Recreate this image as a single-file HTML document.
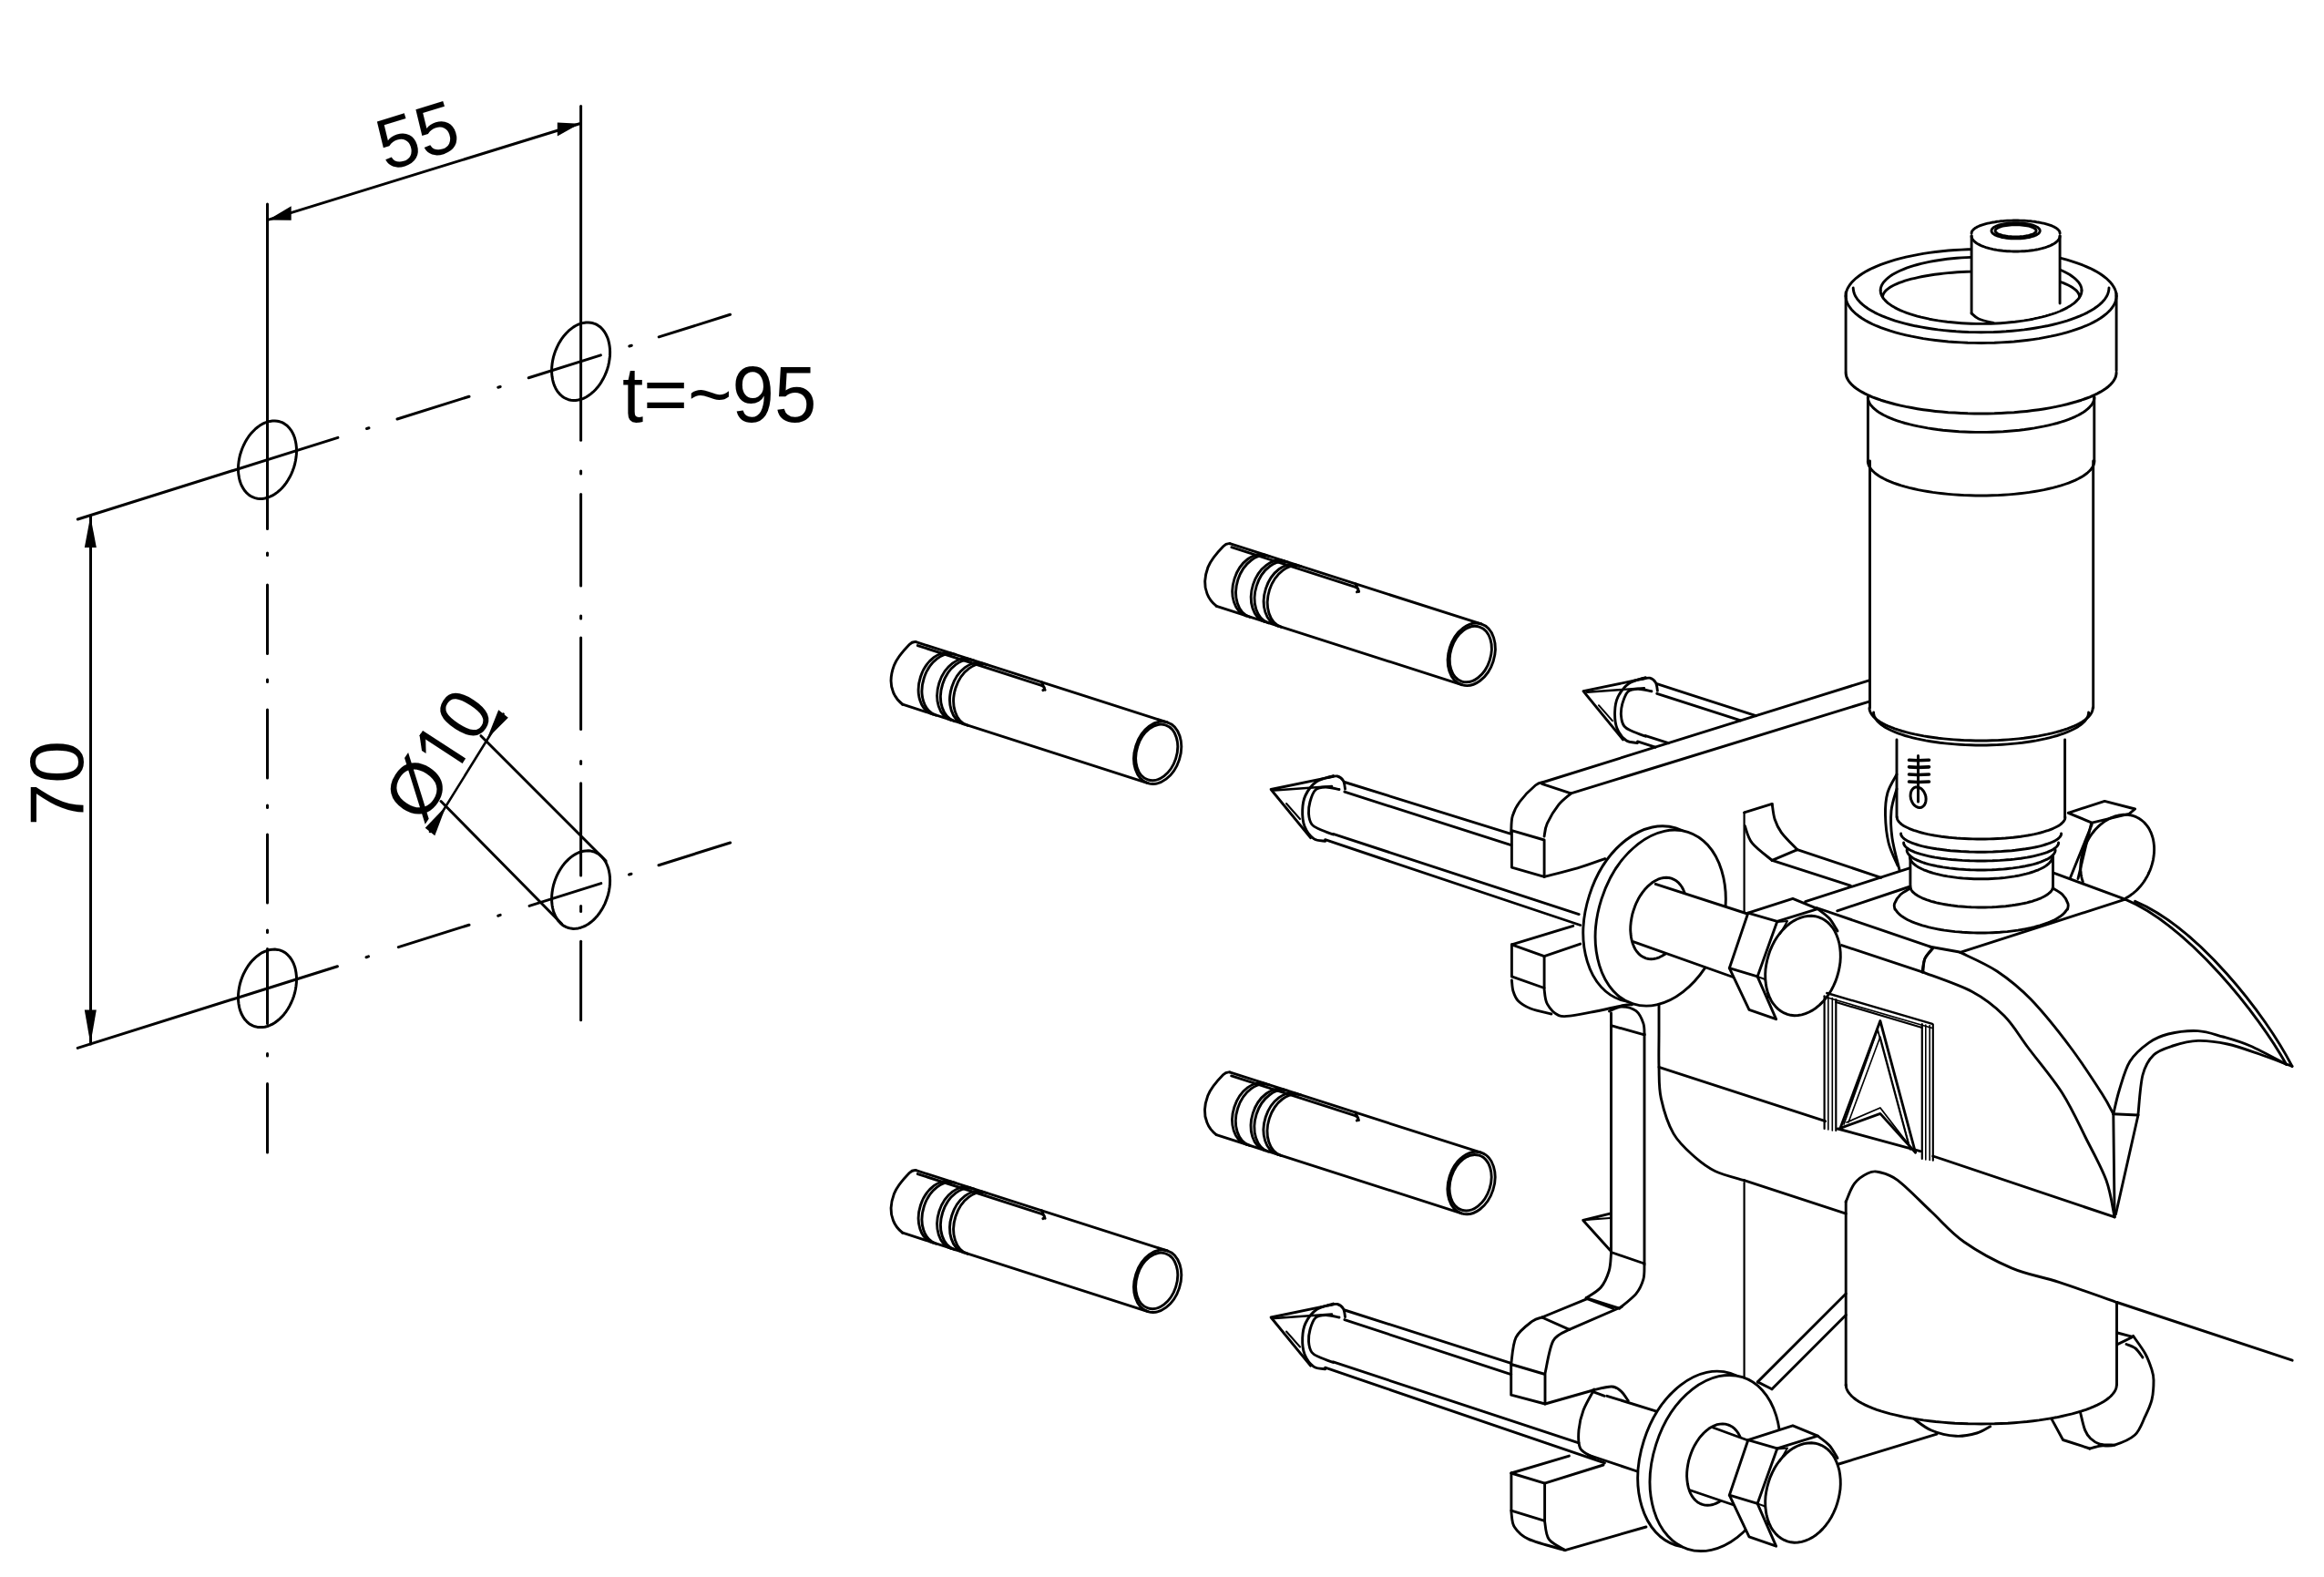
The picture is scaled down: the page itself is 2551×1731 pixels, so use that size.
<!DOCTYPE html>
<html><head><meta charset="utf-8"><style>
html,body{margin:0;padding:0;background:#fff;width:2551px;height:1731px;overflow:hidden}
svg{display:block}
</style></head><body>
<svg width="2551" height="1731" viewBox="0 0 2551 1731" fill="none" stroke="#000" stroke-linecap="round" stroke-linejoin="round">
<rect width="2551" height="1731" fill="#fff" stroke="none"/>
<g fill="#000" stroke="none">
</g>
<line x1="293.5" y1="224" x2="293.5" y2="580.5" stroke-width="3.0"/>
<line x1="293.5" y1="607" x2="293.5" y2="609.5" stroke-width="3.0"/>
<line x1="293.5" y1="642" x2="293.5" y2="717.5" stroke-width="3.0"/>
<line x1="293.5" y1="746" x2="293.5" y2="748.5" stroke-width="3.0"/>
<line x1="293.5" y1="779" x2="293.5" y2="854" stroke-width="3.0"/>
<line x1="293.5" y1="884" x2="293.5" y2="886.5" stroke-width="3.0"/>
<line x1="293.5" y1="916" x2="293.5" y2="991" stroke-width="3.0"/>
<line x1="293.5" y1="1021" x2="293.5" y2="1023.5" stroke-width="3.0"/>
<line x1="293.5" y1="1041.5" x2="293.5" y2="1123.5" stroke-width="3.0"/>
<line x1="293.5" y1="1156.5" x2="293.5" y2="1159" stroke-width="3.0"/>
<line x1="293.5" y1="1189.5" x2="293.5" y2="1265" stroke-width="3.0"/>
<line x1="637.6" y1="116.5" x2="637.6" y2="483.3" stroke-width="3.0"/>
<line x1="637.6" y1="517" x2="637.6" y2="520" stroke-width="3.0"/>
<line x1="637.6" y1="542.6" x2="637.6" y2="643" stroke-width="3.0"/>
<line x1="637.6" y1="676" x2="637.6" y2="679" stroke-width="3.0"/>
<line x1="637.6" y1="700" x2="637.6" y2="800.4" stroke-width="3.0"/>
<line x1="637.6" y1="835.5" x2="637.6" y2="838.5" stroke-width="3.0"/>
<line x1="637.6" y1="859.7" x2="637.6" y2="961.1" stroke-width="3.0"/>
<line x1="637.6" y1="994.5" x2="637.6" y2="1000.5" stroke-width="3.0"/>
<line x1="637.6" y1="1033.3" x2="637.6" y2="1119.7" stroke-width="3.0"/>
<line x1="85.3" y1="570" x2="370.9" y2="480.4" stroke-width="3.0"/>
<line x1="402.5" y1="470.5" x2="405" y2="469.7" stroke-width="3.0"/>
<line x1="436" y1="460" x2="515" y2="435.2" stroke-width="3.0"/>
<line x1="546.7" y1="425.2" x2="549.2" y2="424.5" stroke-width="3.0"/>
<line x1="580.2" y1="414.7" x2="659.4" y2="389.9" stroke-width="3.0"/>
<line x1="690.8" y1="380" x2="693.3" y2="379.2" stroke-width="3.0"/>
<line x1="723.2" y1="369.9" x2="801.5" y2="345.3" stroke-width="3.0"/>
<line x1="85.2" y1="1150.4" x2="370.4" y2="1060.7" stroke-width="3.0"/>
<line x1="402" y1="1050.7" x2="404.5" y2="1049.9" stroke-width="3.0"/>
<line x1="437.3" y1="1039.6" x2="515" y2="1015.2" stroke-width="3.0"/>
<line x1="546.7" y1="1005.2" x2="549.2" y2="1004.4" stroke-width="3.0"/>
<line x1="581" y1="994.4" x2="659.8" y2="969.6" stroke-width="3.0"/>
<line x1="690.5" y1="960" x2="693" y2="959.2" stroke-width="3.0"/>
<line x1="723" y1="949.7" x2="801.6" y2="925" stroke-width="3.0"/>
<polyline points="325.5,494.7 325.4,491.1 325,487.6 324.4,484.3 323.6,481.1 322.5,478 321.2,475.2 319.7,472.6 318,470.3 316.1,468.2 314.1,466.4 311.9,464.9 309.5,463.7 307,462.8 304.4,462.2 301.8,461.9 299.1,462 296.3,462.4 293.5,463.1 290.7,464.1 287.9,465.4 285.2,467.1 282.6,469 280,471.2 277.5,473.7 275.1,476.3 272.9,479.2 270.9,482.3 269,485.6 267.3,489 265.8,492.5 264.5,496.2 263.4,499.8 262.6,503.6 262,507.3 261.6,511 261.5,514.7 261.6,518.3 262,521.8 262.6,525.1 263.4,528.3 264.5,531.3 265.8,534.1 267.3,536.7 269,539.1 270.9,541.2 272.9,543 275.1,544.5 277.5,545.7 280,546.6 282.6,547.2 285.2,547.5 287.9,547.4 290.7,547 293.5,546.3 296.3,545.2 299.1,543.9 301.8,542.3 304.4,540.4 307,538.2 309.5,535.7 311.9,533 314.1,530.1 316.1,527 318,523.8 319.7,520.3 321.2,516.8 322.5,513.2 323.6,509.5 324.4,505.8 325,502.1 325.4,498.3 325.5,494.7" stroke-width="3.0"/>
<polyline points="669.6,386.7 669.5,383.1 669.1,379.7 668.5,376.3 667.7,373.1 666.6,370.1 665.3,367.3 663.8,364.7 662.1,362.3 660.2,360.2 658.2,358.4 656,356.9 653.6,355.7 651.1,354.8 648.5,354.2 645.9,354 643.2,354 640.4,354.4 637.6,355.1 634.8,356.2 632,357.5 629.3,359.1 626.7,361.1 624.1,363.2 621.6,365.7 619.2,368.4 617,371.3 615,374.4 613.1,377.6 611.4,381.1 609.9,384.6 608.6,388.2 607.5,391.9 606.7,395.6 606.1,399.3 605.7,403.1 605.6,406.7 605.7,410.3 606.1,413.8 606.7,417.1 607.5,420.3 608.6,423.4 609.9,426.2 611.4,428.8 613.1,431.1 615,433.2 617,435 619.2,436.5 621.6,437.7 624.1,438.7 626.7,439.2 629.3,439.5 632,439.4 634.8,439 637.6,438.3 640.4,437.3 643.2,436 645.9,434.3 648.5,432.4 651.1,430.2 653.6,427.7 656,425.1 658.2,422.2 660.2,419.1 662.1,415.8 663.8,412.4 665.3,408.9 666.6,405.2 667.7,401.6 668.5,397.8 669.1,394.1 669.5,390.4 669.6,386.7" stroke-width="3.0"/>
<polyline points="325.5,1074.9 325.4,1071.3 325,1067.8 324.4,1064.4 323.6,1061.2 322.5,1058.2 321.2,1055.4 319.7,1052.8 318,1050.5 316.1,1048.4 314.1,1046.6 311.9,1045.1 309.5,1043.8 307,1042.9 304.4,1042.4 301.8,1042.1 299.1,1042.2 296.3,1042.5 293.5,1043.3 290.7,1044.3 287.9,1045.6 285.2,1047.3 282.6,1049.2 280,1051.4 277.5,1053.8 275.1,1056.5 272.9,1059.4 270.9,1062.5 269,1065.8 267.3,1069.2 265.8,1072.7 264.5,1076.3 263.4,1080 262.6,1083.8 262,1087.5 261.6,1091.2 261.5,1094.9 261.6,1098.5 262,1101.9 262.6,1105.3 263.4,1108.5 264.5,1111.5 265.8,1114.3 267.3,1116.9 269,1119.3 270.9,1121.3 272.9,1123.2 275.1,1124.7 277.5,1125.9 280,1126.8 282.6,1127.4 285.2,1127.6 287.9,1127.6 290.7,1127.2 293.5,1126.5 296.3,1125.4 299.1,1124.1 301.8,1122.5 304.4,1120.5 307,1118.3 309.5,1115.9 311.9,1113.2 314.1,1110.3 316.1,1107.2 318,1103.9 319.7,1100.5 321.2,1097 322.5,1093.4 323.6,1089.7 324.4,1086 325,1082.2 325.4,1078.5 325.5,1074.9" stroke-width="3.0"/>
<polyline points="669.6,966.6 669.5,963 669.1,959.5 668.5,956.2 667.7,953 666.6,950 665.3,947.1 663.8,944.5 662.1,942.2 660.2,940.1 658.2,938.3 656,936.8 653.6,935.6 651.1,934.7 648.5,934.1 645.9,933.8 643.2,933.9 640.4,934.3 637.6,935 634.8,936 632,937.4 629.3,939 626.7,940.9 624.1,943.1 621.6,945.6 619.2,948.3 617,951.2 615,954.3 613.1,957.5 611.4,960.9 609.9,964.5 608.6,968.1 607.5,971.8 606.7,975.5 606.1,979.2 605.7,982.9 605.6,986.6 605.7,990.2 606.1,993.7 606.7,997 607.5,1000.2 608.6,1003.2 609.9,1006.1 611.4,1008.7 613.1,1011 615,1013.1 617,1014.9 619.2,1016.4 621.6,1017.6 624.1,1018.5 626.7,1019.1 629.3,1019.4 632,1019.3 634.8,1018.9 637.6,1018.2 640.4,1017.2 643.2,1015.8 645.9,1014.2 648.5,1012.3 651.1,1010.1 653.6,1007.6 656,1004.9 658.2,1002 660.2,998.9 662.1,995.7 663.8,992.3 665.3,988.7 666.6,985.1 667.7,981.4 668.5,977.7 669.1,974 669.5,970.3 669.6,966.6" stroke-width="3.0"/>
<line x1="99.5" y1="567" x2="99.5" y2="1146" stroke-width="3.0"/>
<polygon points="99.3,566.5 105.8,601 92.8,601" fill="#000" stroke="none"/>
<polygon points="99.3,1146 105.8,1108.5 92.8,1108.5" fill="#000" stroke="none"/>
<line x1="294.1" y1="241.4" x2="636.3" y2="135.8" stroke-width="3.0"/>
<polygon points="294.1,241.4 319.7,241.7 319.7,226.3" fill="#000" stroke="none"/>
<polygon points="636.3,135.8 611.8,149.5 611.8,134.5" fill="#000" stroke="none"/>
<line x1="527.9" y1="807.7" x2="665.1" y2="945" stroke-width="3.0"/>
<line x1="484" y1="879.5" x2="616.6" y2="1014" stroke-width="3.0"/>
<line x1="552.5" y1="783.5" x2="472" y2="913" stroke-width="2.6"/>
<polygon points="534.6,811 557.8,787.7 547.2,779.3" fill="#000" stroke="none"/>
<polygon points="489.5,885.1 477.3,917.2 466.7,908.8" fill="#000" stroke="none"/>
<text fill="#000" stroke="none" font-family="Liberation Sans" font-size="84" transform="translate(91,906.5) rotate(-90)">70</text>
<text fill="#000" stroke="none" font-family="Liberation Sans" font-size="80" text-anchor="middle" transform="translate(466.3,174.8) rotate(-17.15)">55</text>
<g transform="translate(463.4,906) rotate(-57)"><text fill="#000" stroke="none" font-family="Liberation Sans" font-size="79" x="0" y="0">Ø</text><text fill="#000" stroke="none" font-family="Liberation Sans" font-size="79" x="105.4" y="0">0</text><polygon points="81.2,-56.1 87.6,-56.1 87.6,0.0 81.2,0.0" fill="#000" stroke="none"/><polygon points="81.2,-56.1 84.4,-56.1 81.2,-48.2 68.6,-39.5 68.6,-45.0" fill="#000" stroke="none"/></g>
<text fill="#000" stroke="none" font-family="Liberation Sans" font-size="88" transform="translate(683,462.5) scale(0.948,1)">t=~95</text>
<defs><g id="pin" stroke-width="2.9"><path d="M -9,-35 L 280.7,-35 M -2,34.8 L 280.7,35"/><ellipse cx="280.7" cy="0" rx="25" ry="35"/><ellipse cx="279.7" cy="0" rx="22" ry="31.5"/><path d="M -9,-35 C -12,-34.5 -13.5,-33 -15,-30 C -19,-22 -23.5,-12 -24,-3 C -24.5,8 -22,18 -16,25 C -12,30 -7,33 -2,34.8"/><path d="M 32.5,-35 A 25 35 0 0 0 32.5,35"/><path d="M 36.5,-35 A 25 35 0 0 0 36.5,35"/><path d="M 54,-35 A 25 35 0 0 0 54,35"/><path d="M 58,-35 A 25 35 0 0 0 58,35"/><path d="M 68.6,-35 A 25 35 0 0 0 68.6,35"/><path d="M 72.9,-35 A 25 35 0 0 0 72.9,35"/><path d="M -6,-31.8 L 136,-31.5 C 141,-31.5 142,-29 140,-27 M 136,-35 L 142,-28"/></g></defs>
<use href="#pin" transform="translate(1003.3,740.7) rotate(17.74)"/>
<use href="#pin" transform="translate(1347.9,632.8) rotate(17.74)"/>
<use href="#pin" transform="translate(1003.3,1320.7) rotate(17.74)"/>
<use href="#pin" transform="translate(1347.7,1213) rotate(17.74)"/>
<g stroke-width="2.9"><line x1="2026.1" y1="321" x2="2026.1" y2="408"/>
<line x1="2323.1" y1="322" x2="2323.1" y2="407"/>
<polyline points="2026.1,325 2026.3,322.5 2026.8,320 2027.7,317.4 2029,315 2030.6,312.5 2032.5,310.1 2034.8,307.7 2037.4,305.3 2040.4,303 2043.6,300.7 2047.2,298.5 2051.1,296.4 2055.3,294.3 2059.8,292.3 2064.6,290.4 2069.6,288.6 2074.9,286.8 2080.4,285.2 2086.1,283.6 2092.1,282.2 2098.3,280.8 2104.6,279.6 2111.1,278.4 2117.8,277.4 2124.6,276.5 2131.5,275.7 2138.5,275 2145.6,274.5 2152.8,274.1 2160,273.7 2167.3,273.6 2174.6,273.5 2181.9,273.6 2189.2,273.7 2196.4,274.1 2203.6,274.5 2210.7,275 2217.7,275.7 2224.6,276.5 2231.4,277.4 2238.1,278.4 2244.6,279.6 2250.9,280.8 2257.1,282.2 2263.1,283.6 2268.8,285.2 2274.3,286.8 2279.6,288.6 2284.6,290.4 2289.4,292.3 2293.9,294.3 2298.1,296.4 2302,298.5 2305.6,300.7 2308.8,303 2311.8,305.3 2314.4,307.7 2316.7,310.1 2318.6,312.5 2320.2,315 2321.5,317.4 2322.4,320 2322.9,322.5 2323.1,325"/>
<polyline points="2323.1,325 2322.9,327.5 2322.4,330 2321.5,332.6 2320.2,335 2318.6,337.5 2316.7,339.9 2314.4,342.3 2311.8,344.7 2308.8,347 2305.6,349.3 2302,351.5 2298.1,353.6 2293.9,355.7 2289.4,357.7 2284.6,359.6 2279.6,361.4 2274.3,363.2 2268.8,364.8 2263.1,366.4 2257.1,367.8 2250.9,369.2 2244.6,370.4 2238.1,371.6 2231.4,372.6 2224.6,373.5 2217.7,374.3 2210.7,375 2203.6,375.5 2196.4,375.9 2189.2,376.3 2181.9,376.4 2174.6,376.5 2167.3,376.4 2160,376.3 2152.8,375.9 2145.6,375.5 2138.5,375 2131.5,374.3 2124.6,373.5 2117.8,372.6 2111.1,371.6 2104.6,370.4 2098.3,369.2 2092.1,367.8 2086.1,366.4 2080.4,364.8 2074.9,363.2 2069.6,361.4 2064.6,359.6 2059.8,357.7 2055.3,355.7 2051.1,353.6 2047.2,351.5 2043.6,349.3 2040.4,347 2037.4,344.7 2034.8,342.3 2032.5,339.9 2030.6,337.5 2029,335 2027.7,332.6 2026.8,330 2026.3,327.5 2026.1,325"/>
<polyline points="2315,316 2314.8,318.4 2314.3,320.8 2313.5,323.1 2312.3,325.5 2310.8,327.8 2309,330.1 2306.8,332.4 2304.3,334.6 2301.5,336.8 2298.4,339 2295,341 2291.3,343.1 2287.4,345 2283.1,346.9 2278.6,348.7 2273.9,350.4 2268.9,352.1 2263.7,353.6 2258.2,355.1 2252.6,356.5 2246.8,357.8 2240.8,358.9 2234.6,360 2228.3,361 2221.9,361.9 2215.4,362.6 2208.7,363.2 2202,363.8 2195.2,364.2 2188.4,364.5 2181.5,364.6 2174.6,364.7 2167.7,364.6 2160.8,364.5 2154,364.2 2147.2,363.8 2140.5,363.2 2133.8,362.6 2127.3,361.9 2120.9,361 2114.6,360 2108.4,358.9 2102.4,357.8 2096.6,356.5 2091,355.1 2085.5,353.6 2080.3,352.1 2075.3,350.4 2070.6,348.7 2066.1,346.9 2061.8,345 2057.9,343.1 2054.2,341 2050.8,339 2047.7,336.8 2044.9,334.6 2042.4,332.4 2040.2,330.1 2038.4,327.8 2036.9,325.5 2035.7,323.1 2034.9,320.8 2034.4,318.4 2034.2,316"/>
<polyline points="2285,318.8 2284.9,320.6 2284.5,322.4 2283.8,324.2 2282.9,325.9 2281.7,327.7 2280.2,329.4 2278.5,331.1 2276.6,332.8 2274.4,334.4 2272,336.1 2269.3,337.6 2266.4,339.1 2263.3,340.6 2259.9,342 2256.4,343.4 2252.7,344.7 2248.7,345.9 2244.6,347.1 2240.4,348.2 2235.9,349.2 2231.4,350.2 2226.6,351.1 2221.8,351.9 2216.8,352.6 2211.8,353.3 2206.6,353.8 2201.4,354.3 2196.1,354.7 2190.8,355 2185.4,355.2 2180,355.4 2174.6,355.4 2169.2,355.4 2163.8,355.2 2158.4,355 2153.1,354.7 2147.8,354.3 2142.6,353.8 2137.4,353.3 2132.4,352.6 2127.4,351.9 2122.6,351.1 2117.8,350.2 2113.3,349.2 2108.8,348.2 2104.6,347.1 2100.5,345.9 2096.5,344.7 2092.8,343.4 2089.3,342 2085.9,340.6 2082.8,339.1 2079.9,337.6 2077.2,336.1 2074.8,334.4 2072.6,332.8 2070.7,331.1 2069,329.4 2067.5,327.7 2066.3,325.9 2065.4,324.2 2064.7,322.4 2064.3,320.6 2064.2,318.8"/>
<polyline points="2064.2,318.8 2064.3,317 2064.7,315.2 2065.4,313.4 2066.3,311.7 2067.5,309.9 2069,308.2 2070.7,306.5 2072.6,304.8 2074.8,303.2 2077.2,301.5 2079.9,300 2082.8,298.5 2085.9,297 2089.3,295.6 2092.8,294.2 2096.5,292.9 2100.5,291.7 2104.6,290.5 2108.8,289.4 2113.3,288.4 2117.8,287.4 2122.6,286.5 2127.4,285.7 2132.4,285 2137.4,284.3 2142.6,283.8 2147.8,283.3 2153.1,282.9 2158.4,282.6 2163.8,282.4 2169.2,282.2 2174.6,282.2 2180,282.2 2185.4,282.4 2190.8,282.6 2196.1,282.9 2201.4,283.3 2206.6,283.8 2211.8,284.3 2216.8,285 2221.8,285.7 2226.6,286.5 2231.4,287.4 2235.9,288.4 2240.4,289.4 2244.6,290.5 2248.7,291.7 2252.7,292.9 2256.4,294.2 2259.9,295.6 2263.3,297 2266.4,298.5 2269.3,300 2272,301.5 2274.4,303.2 2276.6,304.8 2278.5,306.5 2280.2,308.2 2281.7,309.9 2282.9,311.7 2283.8,313.4 2284.5,315.2 2284.9,317 2285,318.8"/>
<polyline points="2066.6,326 2066.7,324.6 2067.1,323.3 2067.8,321.9 2068.7,320.5 2069.8,319.2 2071.3,317.9 2072.9,316.6 2074.8,315.3 2077,314 2079.4,312.8 2082,311.6 2084.8,310.4 2087.9,309.3 2091.1,308.2 2094.6,307.2 2098.2,306.2 2102.1,305.3 2106.1,304.4 2110.3,303.5 2114.6,302.7 2119.1,302 2123.7,301.3 2128.4,300.7 2133.3,300.1 2138.2,299.6 2143.2,299.2 2148.4,298.8 2153.5,298.5 2158.8,298.3 2164,298.1 2169.3,298 2174.6,298 2179.9,298 2185.2,298.1 2190.4,298.3 2195.7,298.5 2200.8,298.8 2206,299.2 2211,299.6 2215.9,300.1 2220.8,300.7 2225.5,301.3 2230.1,302 2234.6,302.7 2238.9,303.5 2243.1,304.4 2247.1,305.3 2251,306.2 2254.6,307.2 2258.1,308.2 2261.3,309.3 2264.4,310.4 2267.2,311.6 2269.8,312.8 2272.2,314 2274.4,315.3 2276.3,316.6 2277.9,317.9 2279.4,319.2 2280.5,320.5 2281.4,321.9 2282.1,323.3 2282.5,324.6 2282.6,326"/>
<polyline points="2323.1,409 2322.9,411.2 2322.4,413.4 2321.5,415.6 2320.2,417.8 2318.6,419.9 2316.7,422.1 2314.4,424.2 2311.8,426.2 2308.8,428.2 2305.6,430.2 2302,432.1 2298.1,434 2293.9,435.8 2289.4,437.5 2284.6,439.2 2279.6,440.8 2274.3,442.3 2268.8,443.8 2263.1,445.1 2257.1,446.4 2250.9,447.6 2244.6,448.7 2238.1,449.7 2231.4,450.6 2224.6,451.4 2217.7,452.1 2210.7,452.7 2203.6,453.1 2196.4,453.5 2189.2,453.8 2181.9,453.9 2174.6,454 2167.3,453.9 2160,453.8 2152.8,453.5 2145.6,453.1 2138.5,452.7 2131.5,452.1 2124.6,451.4 2117.8,450.6 2111.1,449.7 2104.6,448.7 2098.3,447.6 2092.1,446.4 2086.1,445.1 2080.4,443.8 2074.9,442.3 2069.6,440.8 2064.6,439.2 2059.8,437.5 2055.3,435.8 2051.1,434 2047.2,432.1 2043.6,430.2 2040.4,428.2 2037.4,426.2 2034.8,424.2 2032.5,422.1 2030.6,419.9 2029,417.8 2027.7,415.6 2026.8,413.4 2026.3,411.2 2026.1,409" stroke-width="3"/>
<polygon points="2164.1,259 2164.1,344 2172,350 2186,352.5 2188.1,353 2195.1,352.7 2202.1,352.2 2209,351.6 2215.7,350.8 2222.3,349.9 2228.6,348.9 2234.8,347.7 2240.6,346.4 2246.2,345.1 2251.5,343.5 2256.5,341.9 2261.1,340.2 2261.1,259 2261.1,256 2261,255.3 2260.9,254.6 2260.6,253.9 2260.2,253.3 2259.6,252.6 2259,251.9 2258.3,251.3 2257.4,250.6 2256.4,250 2255.4,249.4 2254.2,248.8 2252.9,248.2 2251.6,247.7 2250.1,247.1 2248.5,246.6 2246.9,246.1 2245.2,245.6 2243.4,245.2 2241.5,244.8 2239.5,244.4 2237.5,244 2235.5,243.7 2233.3,243.3 2231.2,243.1 2228.9,242.8 2226.7,242.6 2224.4,242.4 2222.1,242.3 2219.7,242.2 2217.4,242.1 2215,242 2212.6,242 2210.2,242 2207.8,242.1 2205.5,242.2 2203.1,242.3 2200.8,242.4 2198.5,242.6 2196.3,242.8 2194,243.1 2191.9,243.3 2189.7,243.7 2187.7,244 2185.7,244.4 2183.7,244.8 2181.8,245.2 2180,245.6 2178.3,246.1 2176.7,246.6 2175.1,247.1 2173.6,247.7 2172.3,248.2 2171,248.8 2169.8,249.4 2168.8,250 2167.8,250.6 2166.9,251.3 2166.2,251.9 2165.6,252.6 2165,253.3 2164.6,253.9 2164.3,254.6 2164.2,255.3 2164.1,256" fill="#fff" stroke="none"/>
<line x1="2164.1" y1="259" x2="2164.1" y2="344"/>
<line x1="2261.1" y1="259" x2="2261.1" y2="333"/>
<polyline points="2261.1,259 2261,259.8 2260.9,260.7 2260.6,261.5 2260.2,262.3 2259.6,263.1 2259,263.9 2258.3,264.7 2257.4,265.5 2256.4,266.3 2255.4,267 2254.2,267.7 2252.9,268.4 2251.6,269.1 2250.1,269.8 2248.5,270.4 2246.9,271 2245.2,271.6 2243.4,272.1 2241.5,272.7 2239.5,273.1 2237.5,273.6 2235.5,274 2233.3,274.4 2231.2,274.7 2228.9,275 2226.7,275.3 2224.4,275.5 2222.1,275.7 2219.7,275.8 2217.4,275.9 2215,276 2212.6,276 2210.2,276 2207.8,275.9 2205.5,275.8 2203.1,275.7 2200.8,275.5 2198.5,275.3 2196.3,275 2194,274.7 2191.9,274.4 2189.7,274 2187.7,273.6 2185.7,273.1 2183.7,272.7 2181.8,272.1 2180,271.6 2178.3,271 2176.7,270.4 2175.1,269.8 2173.6,269.1 2172.3,268.4 2171,267.7 2169.8,267 2168.8,266.3 2167.8,265.5 2166.9,264.7 2166.2,263.9 2165.6,263.1 2165,262.3 2164.6,261.5 2164.3,260.7 2164.2,259.8 2164.1,259"/>
<polyline points="2164.1,256 2164.2,255.3 2164.3,254.6 2164.6,253.9 2165,253.3 2165.6,252.6 2166.2,251.9 2166.9,251.3 2167.8,250.6 2168.8,250 2169.8,249.4 2171,248.8 2172.3,248.2 2173.6,247.7 2175.1,247.1 2176.7,246.6 2178.3,246.1 2180,245.6 2181.8,245.2 2183.7,244.8 2185.7,244.4 2187.7,244 2189.7,243.7 2191.9,243.3 2194,243.1 2196.3,242.8 2198.5,242.6 2200.8,242.4 2203.1,242.3 2205.5,242.2 2207.8,242.1 2210.2,242 2212.6,242 2215,242 2217.4,242.1 2219.7,242.2 2222.1,242.3 2224.4,242.4 2226.7,242.6 2228.9,242.8 2231.2,243.1 2233.3,243.3 2235.5,243.7 2237.5,244 2239.5,244.4 2241.5,244.8 2243.4,245.2 2245.2,245.6 2246.9,246.1 2248.5,246.6 2250.1,247.1 2251.6,247.7 2252.9,248.2 2254.2,248.8 2255.4,249.4 2256.4,250 2257.4,250.6 2258.3,251.3 2259,251.9 2259.6,252.6 2260.2,253.3 2260.6,253.9 2260.9,254.6 2261,255.3 2261.1,256"/>
<polyline points="2239.2,253.3 2239.1,254.1 2238.7,255 2238.1,255.8 2237.2,256.6 2236.1,257.4 2234.7,258.1 2233.2,258.8 2231.4,259.4 2229.5,259.9 2227.4,260.5 2225.1,260.9 2222.8,261.2 2220.3,261.5 2217.8,261.7 2215.2,261.9 2212.6,261.9 2210,261.9 2207.4,261.7 2204.9,261.5 2202.4,261.2 2200.1,260.9 2197.8,260.5 2195.7,259.9 2193.8,259.4 2192,258.8 2190.5,258.1 2189.1,257.4 2188,256.6 2187.1,255.8 2186.5,255 2186.1,254.1 2186,253.3 2186.1,252.5 2186.5,251.6 2187.1,250.8 2188,250 2189.1,249.2 2190.5,248.5 2192,247.8 2193.8,247.2 2195.7,246.7 2197.8,246.1 2200.1,245.7 2202.4,245.4 2204.9,245.1 2207.4,244.9 2210,244.7 2212.6,244.7 2215.2,244.7 2217.8,244.9 2220.3,245.1 2222.8,245.4 2225.1,245.7 2227.4,246.1 2229.5,246.7 2231.4,247.2 2233.2,247.8 2234.7,248.5 2236.1,249.2 2237.2,250 2238.1,250.8 2238.7,251.6 2239.1,252.5 2239.2,253.3"/>
<polyline points="2235.1,253.3 2235,253.9 2234.7,254.6 2234.1,255.2 2233.4,255.8 2232.4,256.4 2231.3,257 2230,257.5 2228.5,258 2226.9,258.4 2225.1,258.8 2223.2,259.1 2221.2,259.4 2219.1,259.6 2217,259.8 2214.8,259.9 2212.6,259.9 2210.4,259.9 2208.2,259.8 2206.1,259.6 2204,259.4 2202,259.1 2200.1,258.8 2198.3,258.4 2196.7,258 2195.2,257.5 2193.9,257 2192.8,256.4 2191.8,255.8 2191.1,255.2 2190.5,254.6 2190.2,253.9 2190.1,253.3 2190.2,252.7 2190.5,252 2191.1,251.4 2191.8,250.8 2192.8,250.2 2193.9,249.6 2195.2,249.1 2196.7,248.6 2198.3,248.2 2200.1,247.8 2202,247.5 2204,247.2 2206.1,247 2208.2,246.8 2210.4,246.7 2212.6,246.7 2214.8,246.7 2217,246.8 2219.1,247 2221.2,247.2 2223.2,247.5 2225.1,247.8 2226.9,248.2 2228.5,248.6 2230,249.1 2231.3,249.6 2232.4,250.2 2233.4,250.8 2234.1,251.4 2234.7,252 2235,252.7 2235.1,253.3"/>
<path d="M 2164.1,344 C 2165.4,345 2168,348.2 2172,350 C 2176,351.8 2185.3,353.8 2188,354.5"/>
<line x1="2050.4" y1="436" x2="2050.4" y2="506"/>
<line x1="2298.8" y1="436" x2="2298.8" y2="506"/>
<polyline points="2298.9,436 2298.8,437.9 2298.3,439.8 2297.6,441.6 2296.5,443.5 2295.2,445.3 2293.5,447.1 2291.6,448.9 2289.4,450.7 2287,452.4 2284.2,454.1 2281.2,455.7 2278,457.3 2274.4,458.9 2270.7,460.4 2266.7,461.8 2262.5,463.2 2258.1,464.5 2253.5,465.7 2248.6,466.8 2243.7,467.9 2238.5,468.9 2233.2,469.9 2227.7,470.7 2222.2,471.5 2216.5,472.2 2210.7,472.7 2204.8,473.2 2198.8,473.7 2192.8,474 2186.8,474.2 2180.7,474.4 2174.6,474.4 2168.5,474.4 2162.4,474.2 2156.4,474 2150.4,473.7 2144.4,473.2 2138.5,472.7 2132.7,472.2 2127,471.5 2121.5,470.7 2116,469.9 2110.7,468.9 2105.5,467.9 2100.6,466.8 2095.7,465.7 2091.1,464.5 2086.7,463.2 2082.5,461.8 2078.5,460.4 2074.8,458.9 2071.2,457.3 2068,455.7 2065,454.1 2062.2,452.4 2059.8,450.7 2057.6,448.9 2055.7,447.1 2054,445.3 2052.7,443.5 2051.6,441.6 2050.9,439.8 2050.4,437.9 2050.3,436"/>
<polyline points="2298.9,506 2298.8,507.9 2298.3,509.7 2297.6,511.6 2296.5,513.4 2295.2,515.2 2293.5,517 2291.6,518.8 2289.4,520.5 2287,522.2 2284.2,523.9 2281.2,525.5 2278,527.1 2274.4,528.6 2270.7,530.1 2266.7,531.5 2262.5,532.9 2258.1,534.2 2253.5,535.4 2248.6,536.5 2243.7,537.6 2238.5,538.6 2233.2,539.5 2227.7,540.4 2222.2,541.1 2216.5,541.8 2210.7,542.4 2204.8,542.9 2198.8,543.3 2192.8,543.6 2186.8,543.8 2180.7,544 2174.6,544 2168.5,544 2162.4,543.8 2156.4,543.6 2150.4,543.3 2144.4,542.9 2138.5,542.4 2132.7,541.8 2127,541.1 2121.5,540.4 2116,539.5 2110.7,538.6 2105.5,537.6 2100.6,536.5 2095.7,535.4 2091.1,534.2 2086.7,532.9 2082.5,531.5 2078.5,530.1 2074.8,528.6 2071.2,527.1 2068,525.5 2065,523.9 2062.2,522.2 2059.8,520.5 2057.6,518.8 2055.7,517 2054,515.2 2052.7,513.4 2051.6,511.6 2050.9,509.7 2050.4,507.9 2050.3,506"/>
<line x1="2052.5" y1="506" x2="2052.5" y2="777"/>
<line x1="2297.7" y1="506" x2="2297.7" y2="777"/>
<polyline points="2297.2,777 2297.1,778.8 2296.6,780.5 2295.9,782.3 2294.8,784 2293.5,785.7 2291.9,787.5 2290,789.1 2287.9,790.8 2285.4,792.4 2282.7,794 2279.8,795.5 2276.5,797 2273.1,798.4 2269.4,799.8 2265.4,801.2 2261.3,802.5 2256.9,803.7 2252.4,804.8 2247.6,805.9 2242.7,806.9 2237.6,807.9 2232.4,808.7 2227,809.5 2221.5,810.3 2215.9,810.9 2210.2,811.4 2204.4,811.9 2198.5,812.3 2192.6,812.6 2186.6,812.8 2180.6,813 2174.6,813 2168.6,813 2162.6,812.8 2156.6,812.6 2150.7,812.3 2144.8,811.9 2139,811.4 2133.3,810.9 2127.7,810.3 2122.2,809.5 2116.8,808.7 2111.6,807.9 2106.5,806.9 2101.6,805.9 2096.8,804.8 2092.3,803.7 2087.9,802.5 2083.8,801.2 2079.8,799.8 2076.1,798.4 2072.7,797 2069.4,795.5 2066.5,794 2063.8,792.4 2061.3,790.8 2059.2,789.1 2057.3,787.5 2055.7,785.7 2054.4,784 2053.3,782.3 2052.6,780.5 2052.1,778.8 2052,777"/>
<polyline points="2292.6,782 2292.5,783.8 2292,785.5 2291.3,787.3 2290.3,789 2289.1,790.7 2287.5,792.5 2285.7,794.1 2283.6,795.8 2281.3,797.4 2278.7,799 2275.8,800.5 2272.7,802 2269.4,803.4 2265.8,804.8 2262,806.2 2258,807.5 2253.8,808.7 2249.5,809.8 2244.9,810.9 2240.2,811.9 2235.3,812.9 2230.2,813.7 2225.1,814.5 2219.8,815.3 2214.4,815.9 2208.9,816.4 2203.3,816.9 2197.6,817.3 2191.9,817.6 2186.2,817.8 2180.4,818 2174.6,818 2168.8,818 2163,817.8 2157.3,817.6 2151.6,817.3 2145.9,816.9 2140.3,816.4 2134.8,815.9 2129.4,815.3 2124.1,814.5 2119,813.7 2113.9,812.9 2109,811.9 2104.3,810.9 2099.7,809.8 2095.4,808.7 2091.2,807.5 2087.2,806.2 2083.4,804.8 2079.8,803.4 2076.5,802 2073.4,800.5 2070.5,799 2067.9,797.4 2065.6,795.8 2063.5,794.1 2061.7,792.5 2060.1,790.7 2058.9,789 2057.9,787.3 2057.2,785.5 2056.7,783.8 2056.6,782"/>
<line x1="2082" y1="812" x2="2082" y2="897"/>
<line x1="2266.6" y1="812" x2="2266.6" y2="897"/>
<polyline points="2266.9,897 2266.8,898.2 2266.5,899.4 2265.9,900.5 2265.1,901.7 2264.1,902.8 2262.9,904 2261.5,905.1 2259.9,906.2 2258,907.3 2256,908.3 2253.8,909.3 2251.3,910.3 2248.7,911.3 2245.9,912.2 2243,913.1 2239.9,914 2236.6,914.8 2233.2,915.6 2229.6,916.3 2225.9,917 2222.1,917.6 2218.1,918.2 2214.1,918.7 2209.9,919.2 2205.7,919.6 2201.4,920 2197,920.3 2192.6,920.5 2188.1,920.7 2183.6,920.9 2179.1,921 2174.6,921 2170.1,921 2165.6,920.9 2161.1,920.7 2156.6,920.5 2152.2,920.3 2147.8,920 2143.5,919.6 2139.3,919.2 2135.1,918.7 2131.1,918.2 2127.1,917.6 2123.3,917 2119.6,916.3 2116,915.6 2112.6,914.8 2109.3,914 2106.2,913.1 2103.3,912.2 2100.5,911.3 2097.9,910.3 2095.4,909.3 2093.2,908.3 2091.2,907.3 2089.3,906.2 2087.7,905.1 2086.3,904 2085.1,902.8 2084.1,901.7 2083.3,900.5 2082.7,899.4 2082.4,898.2 2082.3,897"/>
<polyline points="2262.6,915 2262.5,916 2262.2,917 2261.6,918 2260.9,918.9 2260,919.9 2258.8,920.9 2257.5,921.8 2255.9,922.7 2254.2,923.6 2252.2,924.5 2250.1,925.4 2247.8,926.2 2245.3,927 2242.6,927.8 2239.8,928.6 2236.8,929.3 2233.7,930 2230.4,930.6 2227,931.2 2223.5,931.8 2219.8,932.3 2216.1,932.8 2212.2,933.3 2208.3,933.7 2204.2,934 2200.1,934.3 2196,934.6 2191.8,934.8 2187.5,935 2183.2,935.1 2178.9,935.2 2174.6,935.2 2170.3,935.2 2166,935.1 2161.7,935 2157.4,934.8 2153.2,934.6 2149.1,934.3 2145,934 2140.9,933.7 2137,933.3 2133.1,932.8 2129.4,932.3 2125.7,931.8 2122.2,931.2 2118.8,930.6 2115.5,930 2112.4,929.3 2109.4,928.6 2106.6,927.8 2103.9,927 2101.4,926.2 2099.1,925.4 2097,924.5 2095,923.6 2093.3,922.7 2091.7,921.8 2090.4,920.9 2089.2,919.9 2088.3,918.9 2087.6,918 2087,917 2086.7,916 2086.6,915"/>
<polyline points="2259.6,925 2259.5,926 2259.2,927 2258.7,927.9 2258,928.9 2257.1,929.9 2255.9,930.8 2254.6,931.7 2253.1,932.7 2251.4,933.6 2249.6,934.4 2247.5,935.3 2245.3,936.1 2242.9,936.9 2240.3,937.7 2237.6,938.4 2234.7,939.1 2231.7,939.8 2228.5,940.5 2225.2,941.1 2221.8,941.6 2218.3,942.2 2214.7,942.6 2210.9,943.1 2207.1,943.5 2203.2,943.8 2199.3,944.1 2195.3,944.4 2191.2,944.6 2187.1,944.8 2182.9,944.9 2178.8,945 2174.6,945 2170.4,945 2166.3,944.9 2162.1,944.8 2158,944.6 2153.9,944.4 2149.9,944.1 2146,943.8 2142.1,943.5 2138.3,943.1 2134.5,942.6 2130.9,942.2 2127.4,941.6 2124,941.1 2120.7,940.5 2117.5,939.8 2114.5,939.1 2111.6,938.4 2108.9,937.7 2106.3,936.9 2103.9,936.1 2101.7,935.3 2099.6,934.4 2097.8,933.6 2096.1,932.7 2094.6,931.7 2093.3,930.8 2092.1,929.9 2091.2,928.9 2090.5,927.9 2090,927 2089.7,926 2089.6,925"/>
<polyline points="2256.1,933 2256,934.1 2255.7,935.2 2255.2,936.2 2254.5,937.3 2253.7,938.3 2252.6,939.4 2251.3,940.4 2249.9,941.4 2248.3,942.4 2246.5,943.4 2244.5,944.3 2242.4,945.2 2240.1,946.1 2237.6,947 2235,947.8 2232.2,948.6 2229.3,949.3 2226.3,950 2223.1,950.7 2219.9,951.3 2216.5,951.9 2213,952.4 2209.4,952.9 2205.8,953.3 2202.1,953.7 2198.3,954.1 2194.4,954.3 2190.5,954.6 2186.6,954.8 2182.6,954.9 2178.6,955 2174.6,955 2170.6,955 2166.6,954.9 2162.6,954.8 2158.7,954.6 2154.8,954.3 2150.9,954.1 2147.1,953.7 2143.4,953.3 2139.8,952.9 2136.2,952.4 2132.7,951.9 2129.3,951.3 2126.1,950.7 2122.9,950 2119.9,949.3 2117,948.6 2114.2,947.8 2111.6,947 2109.1,946.1 2106.8,945.2 2104.7,944.3 2102.7,943.4 2100.9,942.4 2099.3,941.4 2097.9,940.4 2096.6,939.4 2095.5,938.3 2094.7,937.3 2094,936.2 2093.5,935.2 2093.2,934.1 2093.1,933"/>
<polyline points="2252.9,940 2252.8,941.2 2252.5,942.4 2252.1,943.6 2251.4,944.8 2250.6,946 2249.5,947.2 2248.3,948.4 2246.9,949.5 2245.4,950.6 2243.7,951.7 2241.8,952.7 2239.7,953.8 2237.5,954.8 2235.1,955.7 2232.6,956.7 2230,957.5 2227.2,958.4 2224.3,959.2 2221.2,959.9 2218.1,960.6 2214.9,961.3 2211.5,961.9 2208.1,962.4 2204.6,962.9 2201,963.4 2197.3,963.7 2193.6,964.1 2189.9,964.3 2186.1,964.5 2182.3,964.7 2178.4,964.8 2174.6,964.8 2170.8,964.8 2166.9,964.7 2163.1,964.5 2159.3,964.3 2155.6,964.1 2151.9,963.7 2148.2,963.4 2144.6,962.9 2141.1,962.4 2137.7,961.9 2134.3,961.3 2131.1,960.6 2128,959.9 2124.9,959.2 2122,958.4 2119.2,957.5 2116.6,956.7 2114.1,955.7 2111.7,954.8 2109.5,953.8 2107.4,952.7 2105.5,951.7 2103.8,950.6 2102.3,949.5 2100.9,948.4 2099.7,947.2 2098.6,946 2097.8,944.8 2097.1,943.6 2096.7,942.4 2096.4,941.2 2096.3,940"/>
<line x1="2096.9" y1="940" x2="2096.9" y2="973"/>
<line x1="2253.5" y1="940" x2="2253.5" y2="973"/>
<polyline points="2253.5,973 2253.4,974.1 2253.1,975.3 2252.7,976.4 2252,977.5 2251.2,978.6 2250.1,979.7 2248.9,980.7 2247.5,981.8 2246,982.8 2244.3,983.8 2242.4,984.8 2240.3,985.8 2238.1,986.7 2235.7,987.6 2233.2,988.4 2230.6,989.3 2227.8,990 2224.9,990.8 2221.8,991.5 2218.7,992.1 2215.5,992.7 2212.1,993.3 2208.7,993.8 2205.2,994.2 2201.6,994.7 2197.9,995 2194.2,995.3 2190.5,995.6 2186.7,995.8 2182.9,995.9 2179,996 2175.2,996 2171.4,996 2167.5,995.9 2163.7,995.8 2159.9,995.6 2156.2,995.3 2152.5,995 2148.8,994.7 2145.2,994.2 2141.7,993.8 2138.3,993.3 2134.9,992.7 2131.7,992.1 2128.6,991.5 2125.5,990.8 2122.6,990 2119.8,989.3 2117.2,988.4 2114.7,987.6 2112.3,986.7 2110.1,985.8 2108,984.8 2106.1,983.8 2104.4,982.8 2102.9,981.8 2101.5,980.7 2100.3,979.7 2099.2,978.6 2098.4,977.5 2097.7,976.4 2097.3,975.3 2097,974.1 2096.9,973"/>
<path d="M 2096.9,975 C 2095.1,976.2 2088.9,979.2 2086,982 C 2083.1,984.8 2080.5,989.3 2079.5,992 C 2078.5,994.7 2079.9,997 2080,998"/>
<polyline points="2268.7,998.4 2267.9,999.7 2266.9,1001 2265.8,1002.3 2264.4,1003.6 2262.9,1004.9 2261.3,1006.1 2259.4,1007.3 2257.4,1008.5 2255.2,1009.7 2252.9,1010.8 2250.5,1011.9 2247.9,1012.9 2245.1,1013.9 2242.2,1014.9 2239.2,1015.9 2236.1,1016.7 2232.8,1017.6 2229.5,1018.4 2226,1019.1 2222.4,1019.8 2218.8,1020.5 2215.1,1021.1 2211.2,1021.6 2207.4,1022.1 2203.4,1022.6 2199.4,1022.9 2195.4,1023.3 2191.3,1023.5 2187.2,1023.7 2183,1023.9 2178.9,1024 2174.7,1024 2170.5,1024 2166.4,1023.9 2162.2,1023.7 2158.1,1023.5 2154,1023.3 2150,1022.9 2146,1022.6 2142,1022.1 2138.2,1021.6 2134.3,1021.1 2130.6,1020.5 2126.9,1019.8 2123.4,1019.1 2119.9,1018.4 2116.6,1017.6 2113.3,1016.7 2110.2,1015.9 2107.2,1014.9 2104.3,1013.9 2101.5,1012.9 2098.9,1011.9 2096.5,1010.8 2094.2,1009.7 2092,1008.5 2090,1007.3 2088.1,1006.1 2086.5,1004.9 2085,1003.6 2083.6,1002.3 2082.5,1001 2081.5,999.7 2080.7,998.4"/>
<path d="M 2253.5,975 C 2255.2,976.2 2261.2,979.2 2264,982 C 2266.8,984.8 2269.1,989.3 2270,992 C 2270.9,994.7 2269.6,997 2269.5,998"/>
<line x1="2105.5" y1="829.5" x2="2105.5" y2="880" stroke-width="3"/>
<polyline points="2095.5,834.3 2105,834.8 2117.5,834.3" stroke-width="3.6"/>
<polyline points="2095.5,841.9 2105,842.4 2117.5,841.9" stroke-width="3.6"/>
<polyline points="2095.5,850 2105,850.5 2117.5,850" stroke-width="3.6"/>
<polyline points="2095.5,858 2105,858.5 2117.5,858" stroke-width="3.6"/>
<polyline points="2113.5,872.9 2113.8,874 2113.9,875.1 2114.1,876.2 2114.1,877.3 2114,878.4 2113.9,879.5 2113.7,880.5 2113.4,881.4 2113.1,882.3 2112.6,883.1 2112.1,883.9 2111.5,884.5 2110.9,885.1 2110.2,885.6 2109.5,886 2108.8,886.3 2108,886.4 2107.2,886.5 2106.3,886.4 2105.5,886.3 2104.7,886 2103.9,885.6 2103,885.2 2102.3,884.6 2101.5,884 2100.8,883.2 2100.1,882.4 2099.5,881.5 2099,880.6 2098.5,879.6 2098.1,878.5 2097.7,877.5 2097.4,876.4 2097.3,875.3 2097.1,874.2 2097.1,873.1 2097.2,872 2097.3,870.9 2097.5,869.9 2097.8,869 2098.1,868.1 2098.6,867.3 2099.1,866.5 2099.7,865.9 2100.3,865.3 2101,864.8 2101.7,864.4 2102.4,864.1 2103.2,864 2104,863.9 2104.9,864 2105.7,864.1 2106.5,864.4 2107.3,864.8 2108.2,865.2 2108.9,865.8 2109.7,866.4 2110.4,867.2 2111.1,868 2111.7,868.9 2112.2,869.8 2112.7,870.8 2113.1,871.9 2113.5,872.9" stroke-width="3"/>
<path d="M 2082,850 C 2080.3,853.3 2074.1,862.5 2072,870 C 2069.9,877.5 2069.3,885.8 2069.5,895 C 2069.7,904.2 2070.8,915.8 2073,925 C 2075.2,934.2 2081.3,945.8 2083,950"/>
<path d="M 2082,866 C 2081,870 2076.8,881 2076,890 C 2075.2,899 2075.5,909.2 2077,920 C 2078.5,930.8 2083.7,949.2 2085,955"/>
<line x1="1694.2" y1="858.5" x2="2050.9" y2="747.1"/>
<line x1="1724.4" y1="870.9" x2="2050.9" y2="770.3"/>
<path d="M 1658.7,913.5 C 1659,910.6 1658.6,901.5 1660.2,895.9 C 1661.8,890.3 1664,885.6 1668.2,880 C 1672.4,874.4 1681.1,865.6 1685.4,862 C 1689.7,858.4 1692.7,859.1 1694.2,858.5"/>
<path d="M 1695.1,918 C 1695.6,915.6 1695.6,909.6 1698.3,903.8 C 1701,898 1706.7,888.7 1711,883.2 C 1715.3,877.7 1722.2,873 1724.4,870.9"/>
<line x1="1692.5" y1="860.3" x2="1724.4" y2="870.9"/>
<polygon points="1659.4,911.7 1695.1,922 1695.1,962.4 1659.4,952.1"/>
<path d="M 1695.1,962.4 C 1701.2,960.8 1720.5,956.2 1731.6,952.9 C 1742.7,949.6 1756.7,944.3 1761.7,942.6"/>
<polyline points="1463.4,852.3 1395.1,866.5 1438.6,919.7"/>
<line x1="1399" y1="867.5" x2="1462" y2="863" stroke-width="2.4"/>
<line x1="1412" y1="882" x2="1427" y2="899" stroke-width="2"/>
<path d="M 1463.4,851.5 C 1460.3,852.6 1450.1,854.4 1445,858 C 1439.9,861.6 1435.5,867.8 1433,873 C 1430.5,878.2 1429.9,883.3 1429.7,889 C 1429.5,894.7 1429.9,901.7 1432,907 C 1434.1,912.3 1438.3,917.9 1442.1,920.6 C 1445.9,923.3 1452.5,922.8 1454.6,923.3"/>
<path d="M 1458.1,853.2 C 1459.8,853 1465.3,851.4 1468,852 C 1470.7,852.6 1473.1,854.7 1474.5,857 C 1475.9,859.3 1476.2,864.5 1476.5,866"/>
<path d="M 1470,866.5 C 1467.5,866.1 1459.3,863.9 1455,864 C 1450.7,864.1 1446.8,864.3 1444,867 C 1441.2,869.7 1439.2,875.7 1438,880 C 1436.8,884.3 1436.2,888.8 1436.5,893 C 1436.8,897.2 1437.9,902.1 1440,905 C 1442.1,907.9 1445.1,908.7 1449,910.5 C 1452.9,912.3 1461,915.1 1463.4,916"/>
<line x1="1475.9" y1="858.5" x2="1658.7" y2="915.3"/>
<line x1="1475.9" y1="869.1" x2="1658.7" y2="927.7"/>
<line x1="1454.6" y1="921.7" x2="1734.7" y2="1015.5"/>
<line x1="1463.4" y1="915.4" x2="1733.2" y2="1003.6"/>
<polyline points="1806.3,744.5 1738,758.7 1781.5,811.9"/>
<line x1="1741.9" y1="759.7" x2="1804.9" y2="755.2" stroke-width="2.4"/>
<line x1="1754.9" y1="774.2" x2="1769.9" y2="791.2" stroke-width="2"/>
<path d="M 1806.3,743.7 C 1803.2,744.8 1793,746.6 1787.9,750.2 C 1782.8,753.8 1778.5,760 1775.9,765.2 C 1773.4,770.4 1772.8,775.5 1772.6,781.2 C 1772.4,786.9 1772.8,793.9 1774.9,799.2 C 1777,804.5 1781.2,810.1 1785,812.8 C 1788.8,815.5 1795.4,815 1797.5,815.5"/>
<path d="M 1801,745.4 C 1802.7,745.2 1808.2,743.6 1810.9,744.2 C 1813.6,744.8 1816,746.9 1817.4,749.2 C 1818.8,751.5 1819.1,756.7 1819.4,758.2"/>
<path d="M 1812.9,758.7 C 1810.4,758.3 1802.2,756.1 1797.9,756.2 C 1793.6,756.3 1789.7,756.5 1786.9,759.2 C 1784.1,761.9 1782.2,767.9 1780.9,772.2 C 1779.7,776.5 1779.1,781 1779.4,785.2 C 1779.7,789.4 1780.8,794.3 1782.9,797.2 C 1785,800.1 1788,800.9 1791.9,802.7 C 1795.8,804.5 1803.9,807.3 1806.3,808.2"/>
<line x1="1818.8" y1="750.7" x2="1927.4" y2="785.7"/>
<line x1="1818.8" y1="761.3" x2="1910.7" y2="790.9"/>
<line x1="1797.5" y1="813.9" x2="1817" y2="820.2"/>
<line x1="1806.3" y1="807.6" x2="1831.4" y2="815.7"/>
<polyline points="1463.4,1431.8 1395.1,1446 1438.6,1499.2"/>
<line x1="1399" y1="1447" x2="1462" y2="1442.5" stroke-width="2.4"/>
<line x1="1412" y1="1461.5" x2="1427" y2="1478.5" stroke-width="2"/>
<path d="M 1463.4,1431 C 1460.3,1432.1 1450.1,1433.9 1445,1437.5 C 1439.9,1441.1 1435.5,1447.3 1433,1452.5 C 1430.5,1457.7 1429.9,1462.8 1429.7,1468.5 C 1429.5,1474.2 1429.9,1481.2 1432,1486.5 C 1434.1,1491.8 1438.3,1497.4 1442.1,1500.1 C 1445.9,1502.8 1452.5,1502.3 1454.6,1502.8"/>
<path d="M 1458.1,1432.7 C 1459.8,1432.5 1465.3,1430.9 1468,1431.5 C 1470.7,1432.1 1473.1,1434.2 1474.5,1436.5 C 1475.9,1438.8 1476.2,1444 1476.5,1445.5"/>
<path d="M 1470,1446 C 1467.5,1445.6 1459.3,1443.4 1455,1443.5 C 1450.7,1443.6 1446.8,1443.8 1444,1446.5 C 1441.2,1449.2 1439.2,1455.2 1438,1459.5 C 1436.8,1463.8 1436.2,1468.3 1436.5,1472.5 C 1436.8,1476.7 1437.9,1481.6 1440,1484.5 C 1442.1,1487.4 1445.1,1488.2 1449,1490 C 1452.9,1491.8 1461,1494.6 1463.4,1495.5"/>
<line x1="1475.9" y1="1438" x2="1658.7" y2="1496.3"/>
<line x1="1475.9" y1="1448.6" x2="1658.7" y2="1508.7"/>
<line x1="1454.6" y1="1501.2" x2="1761.4" y2="1605.9"/>
<line x1="1463.4" y1="1494.9" x2="1733" y2="1583.9"/>
<polyline points="1767.3,1332.2 1737.7,1339.5 1767.3,1372.2"/>
<line x1="1740.6" y1="1339" x2="1767.3" y2="1337" stroke-width="1.8"/>
<line x1="1914.6" y1="891.9" x2="1914.6" y2="1001" stroke-width="2.2"/>
<line x1="1914.6" y1="1298" x2="1914.6" y2="1511.3" stroke-width="2.2"/>
<line x1="1914.6" y1="891.9" x2="1945.2" y2="882.4"/>
<path d="M 1945.2,882.4 C 1945.7,885.2 1946.4,894 1948.1,899.2 C 1949.8,904.4 1951.3,908.2 1955.4,913.8 C 1959.5,919.4 1970,929.6 1972.9,932.7"/>
<path d="M 1915.3,906.5 C 1916.6,909.6 1918.3,919.1 1923.3,925.4 C 1928.3,931.7 1941.5,941.2 1945.2,944.4"/>
<line x1="1972.9" y1="932.7" x2="2064.8" y2="963.3"/>
<line x1="1945.2" y1="944.4" x2="2031.3" y2="972.1"/>
<line x1="1945.2" y1="944.4" x2="1972.9" y2="932.7"/>
<polyline points="1659.4,1036.9 1726.8,1016.3"/>
<polyline points="1659.4,1036.9 1695.1,1049.6 1734.7,1036.1"/>
<line x1="1659.4" y1="1036.9" x2="1659.4" y2="1071.8"/>
<line x1="1695.1" y1="1049.6" x2="1695.1" y2="1084.5"/>
<line x1="1659.4" y1="1071.8" x2="1695.1" y2="1084.5"/>
<path d="M 1659.4,1076 C 1659.7,1078 1659.8,1084.2 1661,1088 C 1662.2,1091.8 1663.4,1095.6 1666.6,1098.8 C 1669.8,1102 1673.9,1104.6 1680,1107 C 1686.1,1109.4 1699.2,1112 1703,1113"/>
<path d="M 1695.1,1086 C 1695.6,1088.7 1695.6,1097.1 1698.3,1101.9 C 1701,1106.7 1706.2,1112.5 1711,1114.6 C 1715.8,1116.7 1720,1115.4 1726.8,1114.6 C 1733.6,1113.8 1742.8,1111.8 1752,1110 C 1761.2,1108.2 1775.8,1104.7 1782.3,1103.5 C 1788.8,1102.3 1789.8,1102.9 1791.3,1102.8"/>
<path d="M 1766.5,1110 C 1768.7,1109.2 1775,1105.1 1779.9,1105.1 C 1784.8,1105 1791.9,1106.7 1795.9,1109.7 C 1799.9,1112.8 1802.4,1119 1803.9,1123.4 C 1805.4,1127.8 1804.8,1133.9 1805,1136"/>
<line x1="1768.5" y1="1112" x2="1768.5" y2="1374.5"/>
<line x1="1805" y1="1134.8" x2="1805" y2="1388.2"/>
<line x1="1768.5" y1="1125.7" x2="1805" y2="1135.9"/>
<line x1="1768.5" y1="1374.5" x2="1805" y2="1387"/>
<path d="M 1768.5,1376 C 1768.1,1379.2 1768.1,1388.8 1766.2,1395 C 1764.3,1401.2 1761.3,1408.3 1757.1,1413.3 C 1752.9,1418.2 1743.8,1422.8 1741.1,1424.7"/>
<path d="M 1805,1389 C 1804.8,1391.5 1805.4,1399 1803.9,1404.2 C 1802.4,1409.4 1800.3,1414.8 1795.9,1420.1 C 1791.5,1425.4 1780.6,1433.4 1777.6,1436.1"/>
<line x1="1741.1" y1="1424.7" x2="1777.6" y2="1436.1"/>
<path d="M 1821,1102 C 1821,1107.5 1821,1123.2 1821,1134.8 C 1821,1146.3 1820.6,1159.5 1821,1171.3 C 1821.4,1183.1 1820.6,1193.4 1823.3,1205.6 C 1826,1217.8 1830.9,1233.8 1837,1244.4 C 1843.1,1255.1 1852.2,1262.7 1859.8,1269.5 C 1867.4,1276.3 1873.5,1281.1 1882.6,1285.5 C 1891.7,1289.9 1909.3,1294 1914.6,1295.7"/>
<line x1="1914.6" y1="1295.7" x2="2026.2" y2="1332.2"/>
<path d="M 1658.7,1497.5 C 1659.6,1492.6 1660.2,1476 1664,1468.2 C 1667.8,1460.4 1677,1454.1 1681.8,1450.4 C 1686.5,1446.7 1690.7,1446.7 1692.5,1446"/>
<path d="M 1696,1507.3 C 1697.5,1501.4 1700.5,1479.7 1704.9,1471.7 C 1709.3,1463.7 1719.6,1461.4 1722.6,1459.3"/>
<line x1="1692.5" y1="1446" x2="1722.6" y2="1459.3"/>
<line x1="1722.6" y1="1459.3" x2="1780" y2="1434.5"/>
<line x1="1692.5" y1="1446" x2="1742.2" y2="1425.6"/>
<line x1="1742.2" y1="1425.6" x2="1770.6" y2="1436.2"/>
<polygon points="1658.7,1497.5 1696,1508.5 1696,1541 1658.7,1531.2"/>
<line x1="1696" y1="1541" x2="1747" y2="1526.5"/>
<polyline points="1658.9,1617 1722.4,1598.1"/>
<polyline points="1658.9,1617 1695.6,1628.2 1760,1608"/>
<line x1="1658.9" y1="1617" x2="1658.9" y2="1658.2"/>
<line x1="1695.6" y1="1628.2" x2="1695.6" y2="1669.3"/>
<line x1="1658.9" y1="1658.2" x2="1695.6" y2="1669.3"/>
<path d="M 1658.9,1660 C 1659.5,1662.7 1659.2,1671.1 1662.3,1676 C 1665.4,1680.9 1668.5,1685.1 1677.8,1689.4 C 1687.1,1693.7 1711.2,1699.6 1717.9,1701.6"/>
<path d="M 1695.6,1670 C 1696.3,1673.2 1696.4,1684.1 1700.1,1689.4 C 1703.8,1694.7 1714.9,1699.6 1717.9,1701.6"/>
<line x1="1717.9" y1="1701.6" x2="1806.9" y2="1676"/>
<line x1="1929.3" y1="1516.9" x2="2026.2" y2="1420"/>
<line x1="1945" y1="1524.7" x2="2026.2" y2="1443.4"/>
<line x1="1929.3" y1="1516.9" x2="1945" y2="1524.7"/>
<line x1="2018.4" y1="1607" x2="2126" y2="1574.2"/>
<ellipse cx="1809.4" cy="1003.3" rx="68" ry="99" fill="#fff" transform="rotate(17.7 1809.4 1003.3)"/>
<ellipse cx="1822.7" cy="1007.6" rx="68" ry="99" fill="#fff" transform="rotate(17.7 1822.7 1007.6)"/>
<polyline points="1848.3,1016.8 1846.8,1021.1 1845.1,1025.2 1843.1,1029.2 1840.9,1032.9 1838.5,1036.4 1835.9,1039.7 1833.2,1042.6 1830.3,1045.2 1827.4,1047.5 1824.4,1049.3 1821.4,1050.8 1818.4,1051.9 1815.3,1052.5 1812.4,1052.7 1809.5,1052.5 1806.7,1051.8 1804.1,1050.7 1801.6,1049.3 1799.3,1047.4 1797.2,1045.1 1795.3,1042.5 1793.7,1039.5 1792.4,1036.3 1791.3,1032.8 1790.5,1029 1790,1025 1789.7,1020.9 1789.8,1016.6 1790.2,1012.3 1790.9,1007.9 1791.8,1003.5 1793.1,999.2 1794.6,994.9 1796.3,990.8 1798.3,986.8 1800.5,983.1 1802.9,979.6 1805.5,976.3 1808.2,973.4 1811.1,970.8 1814,968.5 1817,966.7 1820,965.2 1823,964.1 1826.1,963.5 1829,963.3 1831.9,963.5 1834.7,964.2 1837.3,965.3 1839.8,966.7 1842.1,968.6 1844.2,970.9 1846.1,973.5 1847.7,976.5 1849,979.7 1850.1,983.2 1850.9,987 1851.4,991 1851.7,995.1 1851.6,999.4 1851.2,1003.7 1850.5,1008.1 1849.6,1012.5 1848.3,1016.8"/>
<polygon points="1817.2,970.4 1935,1008.5 1915,1077 1793.4,1033.8" fill="#fff" stroke="none"/>
<line x1="1817.2" y1="970.4" x2="1935" y2="1008.5"/>
<line x1="1793.4" y1="1033.8" x2="1915" y2="1077"/>
<polygon points="1918.8,1002.2 1967.9,986.3 1995.3,997.7 2015,1020 2019,1060 2000,1105 1960,1119 1949.6,1118.7 1920,1108.4 1898.3,1062.7" fill="#fff" stroke="none"/>
<polygon points="1918.8,1002.2 1967.9,986.3 1995.3,997.7 1950.8,1011.4"/>
<polyline points="1918.8,1002.2 1898.3,1062.7 1920,1108.4 1949.6,1118.7 1929.1,1071.9 1950.8,1011.4"/>
<line x1="1898.3" y1="1062.7" x2="1929.1" y2="1071.9"/>
<polyline points="1950.8,1012 1962,1011 1954,1025" stroke-width="2"/>
<polyline points="1929.1,1071.9 1937.5,1075 1941,1095" stroke-width="2"/>
<polyline points="2016.6,1072 2014.8,1077.2 2012.6,1082.2 2010.1,1087 2007.3,1091.5 2004.2,1095.7 2000.8,1099.6 1997.3,1103.1 1993.6,1106.2 1989.7,1108.9 1985.7,1111 1981.7,1112.7 1977.7,1113.9 1973.6,1114.5 1969.6,1114.7 1965.7,1114.3 1962,1113.3 1958.4,1111.9 1955,1110 1951.8,1107.6 1948.9,1104.7 1946.2,1101.4 1943.9,1097.7 1942,1093.6 1940.4,1089.2 1939.1,1084.6 1938.3,1079.7 1937.8,1074.6 1937.7,1069.3 1938,1064 1938.8,1058.6 1939.9,1053.3 1941.4,1048 1943.2,1042.8 1945.4,1037.8 1947.9,1033 1950.7,1028.5 1953.8,1024.3 1957.2,1020.4 1960.7,1016.9 1964.4,1013.8 1968.3,1011.1 1972.3,1009 1976.3,1007.3 1980.3,1006.1 1984.4,1005.5 1988.4,1005.3 1992.3,1005.7 1996,1006.7 1999.6,1008.1 2003,1010 2006.2,1012.4 2009.1,1015.3 2011.8,1018.6 2014.1,1022.3 2016,1026.4 2017.6,1030.8 2018.9,1035.4 2019.7,1040.3 2020.2,1045.4 2020.3,1050.7 2020,1056 2019.2,1061.4 2018.1,1066.7 2016.6,1072"/>
<path d="M 1995.3,997.7 C 1997.4,999.4 2004.4,1004 2008,1008 C 2011.6,1012 2015.5,1019.7 2017,1022"/>
<path d="M 1750,1525 C 1748,1528.8 1740.9,1540.3 1738.1,1547.8 C 1735.3,1555.2 1733.6,1562.8 1733,1569.7 C 1732.4,1576.6 1732.6,1584.6 1734.3,1589.1 C 1736,1593.6 1740.7,1595 1743.3,1596.8 C 1745.9,1598.6 1748.9,1599.5 1750,1600"/>
<line x1="1764" y1="1532.3" x2="1818.2" y2="1549.1"/>
<line x1="1743.3" y1="1597" x2="1800" y2="1616"/>
<path d="M 1748,1526 C 1751.5,1525.3 1763.9,1521.8 1769.1,1522 C 1774.3,1522.2 1776.4,1524.5 1779.4,1527.1 C 1782.4,1529.7 1785.9,1535.8 1787.2,1537.5"/>
<line x1="1747.2" y1="1527.1" x2="1761.4" y2="1532.3"/>
<ellipse cx="1869.3" cy="1601.7" rx="68" ry="99" fill="#fff" transform="rotate(17.7 1869.3 1601.7)"/>
<ellipse cx="1882.6" cy="1606" rx="68" ry="99" fill="#fff" transform="rotate(17.7 1882.6 1606)"/>
<polyline points="1910.2,1616.4 1908.7,1620.7 1907,1624.8 1905,1628.8 1902.8,1632.5 1900.4,1636 1897.8,1639.3 1895.1,1642.2 1892.2,1644.8 1889.3,1647.1 1886.3,1648.9 1883.3,1650.4 1880.3,1651.5 1877.2,1652.1 1874.3,1652.3 1871.4,1652.1 1868.6,1651.4 1866,1650.3 1863.5,1648.9 1861.2,1647 1859.1,1644.7 1857.2,1642.1 1855.6,1639.1 1854.3,1635.9 1853.2,1632.4 1852.4,1628.6 1851.9,1624.6 1851.6,1620.5 1851.7,1616.2 1852.1,1611.9 1852.8,1607.5 1853.7,1603.1 1855,1598.8 1856.5,1594.5 1858.2,1590.4 1860.2,1586.4 1862.4,1582.7 1864.8,1579.2 1867.4,1575.9 1870.1,1573 1873,1570.4 1875.9,1568.1 1878.9,1566.3 1881.9,1564.8 1884.9,1563.7 1888,1563.1 1890.9,1562.9 1893.8,1563.1 1896.6,1563.8 1899.2,1564.9 1901.7,1566.3 1904,1568.2 1906.1,1570.5 1908,1573.1 1909.6,1576.1 1910.9,1579.3 1912,1582.8 1912.8,1586.6 1913.3,1590.6 1913.6,1594.7 1913.5,1599 1913.1,1603.3 1912.4,1607.7 1911.5,1612.1 1910.2,1616.4"/>
<polygon points="1880.4,1567 1935,1587 1915,1656 1855.9,1636" fill="#fff" stroke="none"/>
<line x1="1880.4" y1="1567" x2="1935" y2="1587"/>
<line x1="1855.9" y1="1636" x2="1915" y2="1656"/>
<polygon points="1918.8,1580.7 1967.9,1564.8 1995.3,1576.2 2015,1598.5 2019,1638.5 2000,1683.5 1960,1697.5 1949.6,1697.2 1920,1686.9 1898.3,1641.2" fill="#fff" stroke="none"/>
<polygon points="1918.8,1580.7 1967.9,1564.8 1995.3,1576.2 1950.8,1589.9"/>
<polyline points="1918.8,1580.7 1898.3,1641.2 1920,1686.9 1949.6,1697.2 1929.1,1650.4 1950.8,1589.9"/>
<line x1="1898.3" y1="1641.2" x2="1929.1" y2="1650.4"/>
<polyline points="1950.8,1590.5 1962,1589.5 1954,1603.5" stroke-width="2"/>
<polyline points="1929.1,1650.4 1937.5,1653.5 1941,1673.5" stroke-width="2"/>
<polyline points="2016.6,1650.5 2014.8,1655.7 2012.6,1660.7 2010.1,1665.5 2007.3,1670 2004.2,1674.2 2000.8,1678.1 1997.3,1681.6 1993.6,1684.7 1989.7,1687.4 1985.7,1689.5 1981.7,1691.2 1977.7,1692.4 1973.6,1693 1969.6,1693.2 1965.7,1692.8 1962,1691.8 1958.4,1690.4 1955,1688.5 1951.8,1686.1 1948.9,1683.2 1946.2,1679.9 1943.9,1676.2 1942,1672.1 1940.4,1667.7 1939.1,1663.1 1938.3,1658.2 1937.8,1653.1 1937.7,1647.8 1938,1642.5 1938.8,1637.1 1939.9,1631.8 1941.4,1626.5 1943.2,1621.3 1945.4,1616.3 1947.9,1611.5 1950.7,1607 1953.8,1602.8 1957.2,1598.9 1960.7,1595.4 1964.4,1592.3 1968.3,1589.6 1972.3,1587.5 1976.3,1585.8 1980.3,1584.6 1984.4,1584 1988.4,1583.8 1992.3,1584.2 1996,1585.2 1999.6,1586.6 2003,1588.5 2006.2,1590.9 2009.1,1593.8 2011.8,1597.1 2014.1,1600.8 2016,1604.9 2017.6,1609.3 2018.9,1613.9 2019.7,1618.8 2020.2,1623.9 2020.3,1629.2 2020,1634.5 2019.2,1639.9 2018.1,1645.2 2016.6,1650.5"/>
<path d="M 1995.3,1576.2 C 1997.4,1577.9 2004.4,1582.5 2008,1586.5 C 2011.6,1590.5 2015.5,1598.2 2017,1600.5"/>
<line x1="1994.2" y1="996.5" x2="2118.8" y2="1039.2"/>
<line x1="2118.8" y1="1039.2" x2="2150.9" y2="1045"/>
<line x1="2021.6" y1="1037.6" x2="2110" y2="1066.9"/>
<path d="M 2110,1066.9 C 2110.5,1064.5 2111,1056.7 2112.9,1052.3 C 2114.8,1047.9 2120.2,1042.5 2121.7,1040.6"/>
<line x1="2016.7" y1="999.8" x2="2095.4" y2="973.5"/>
<line x1="1981.7" y1="989.6" x2="2095.4" y2="953.1"/>
<line x1="2254.1" y1="958.1" x2="2332.8" y2="987.2"/>
<line x1="2332.8" y1="987.2" x2="2151.7" y2="1045.4"/>
<path d="M 2121.6,1041.1 C 2120.2,1042.9 2114.8,1047.7 2113,1052 C 2111.2,1056.3 2111.2,1064.5 2110.8,1067"/>
<path d="M 2332.8,987.2 C 2402.8,1016.6 2479.6,1114.3 2509.6,1168.3"/>
<path d="M 2343.6,989.3 C 2412,1018 2486,1112 2516,1170.4"/>
<path d="M 2509.6,1168.3 C 2503,1164.9 2481.6,1153 2470,1148 C 2458.4,1143 2449.6,1140.7 2440,1138 C 2430.4,1135.3 2422.6,1132.1 2412.6,1131.6 C 2402.6,1131.1 2389,1132.8 2380,1135 C 2371,1137.2 2365.7,1139.6 2358.7,1144.6 C 2351.7,1149.6 2343.4,1156.4 2338,1165 C 2332.6,1173.6 2329.4,1186.7 2326.4,1196.3 C 2323.4,1205.9 2320.9,1218.4 2319.8,1222.8"/>
<path d="M 2516,1170.4 C 2510,1168.2 2491.8,1161.1 2480,1157 C 2468.2,1152.9 2456.2,1148.4 2445,1146 C 2433.8,1143.6 2422.6,1142.1 2412.6,1142.4 C 2402.6,1142.7 2393.1,1145.4 2385,1148 C 2376.9,1150.6 2369.5,1152.7 2364,1158 C 2358.5,1163.3 2354.8,1169.2 2352,1180 C 2349.2,1190.8 2347.8,1215.7 2347,1222.8"/>
<line x1="2319.8" y1="1222.8" x2="2347" y2="1224"/>
<line x1="2319.8" y1="1222.8" x2="2321.1" y2="1335.9"/>
<line x1="2347" y1="1224" x2="2322.4" y2="1333"/>
<path d="M 2151.7,1045.4 C 2158.4,1048.8 2179.1,1057.4 2192,1066 C 2204.9,1074.6 2215.8,1083.1 2229.3,1097.1 C 2242.8,1111.1 2260.1,1132.8 2273,1150 C 2285.9,1167.2 2299.2,1187.9 2307,1200 C 2314.8,1212.1 2317.7,1219 2319.8,1222.8"/>
<path d="M 2110,1066.9 C 2119.1,1070.5 2149.7,1080.5 2164.7,1088.5 C 2179.7,1096.5 2189.8,1104.8 2200,1115 C 2210.2,1125.2 2215.6,1135.8 2226.2,1150 C 2236.8,1164.2 2253.2,1183.3 2263.8,1200 C 2274.4,1216.7 2282,1234.1 2290,1250 C 2298,1265.9 2306.8,1281.3 2312,1295.6 C 2317.2,1309.9 2319.6,1329.2 2321.1,1335.9"/>
<line x1="1821" y1="1171.3" x2="2003.6" y2="1230.7"/>
<line x1="2121.8" y1="1269" x2="2321.1" y2="1335.9"/>
<line x1="2002.6" y1="1093.3" x2="2002.6" y2="1239" stroke-width="2.2"/>
<line x1="2006.8" y1="1094.5" x2="2006.8" y2="1240" stroke-width="1.6"/>
<line x1="2011.3" y1="1095.5" x2="2011.3" y2="1241" stroke-width="1.6"/>
<line x1="2015.3" y1="1097" x2="2015.3" y2="1241" stroke-width="2.2"/>
<line x1="2109.8" y1="1124" x2="2109.8" y2="1272" stroke-width="2.2"/>
<line x1="2113.8" y1="1125" x2="2113.8" y2="1273" stroke-width="1.6"/>
<line x1="2118.2" y1="1125.5" x2="2118.2" y2="1273.5" stroke-width="1.6"/>
<line x1="2121.8" y1="1124.5" x2="2121.8" y2="1273.7" stroke-width="2.2"/>
<line x1="2005.3" y1="1090" x2="2121.1" y2="1123.9" stroke-width="2.4"/>
<line x1="2006" y1="1095" x2="2121" y2="1128.5" stroke-width="1.6"/>
<line x1="2015.3" y1="1100" x2="2109.8" y2="1128" stroke-width="2.2"/>
<polyline points="2020,1238.4 2063.9,1120.6 2102.5,1265"/>
<polyline points="2024,1234 2061,1130 2096,1260" stroke-width="1.8"/>
<polyline points="2029,1232 2063.9,1138 2097,1262" stroke-width="1.6"/>
<polyline points="2020,1238.4 2063.9,1222.4 2102.5,1265"/>
<polyline points="2027,1232 2063.9,1216 2094,1255" stroke-width="1.8"/>
<line x1="2017.3" y1="1239" x2="2107.8" y2="1263.7"/>
<line x1="2026.2" y1="1319" x2="2026.2" y2="1520.7"/>
<line x1="2323.5" y1="1429.5" x2="2323.5" y2="1520"/>
<polyline points="2323.4,1520 2323.2,1522.1 2322.7,1524.2 2321.8,1526.3 2320.5,1528.4 2318.9,1530.4 2317,1532.5 2314.7,1534.5 2312.1,1536.5 2309.1,1538.4 2305.9,1540.3 2302.3,1542.1 2298.4,1543.9 2294.2,1545.6 2289.7,1547.3 2284.9,1548.9 2279.9,1550.4 2274.6,1551.9 2269.1,1553.2 2263.3,1554.5 2257.4,1555.8 2251.2,1556.9 2244.8,1557.9 2238.3,1558.9 2231.7,1559.7 2224.9,1560.5 2217.9,1561.1 2210.9,1561.7 2203.8,1562.2 2196.6,1562.5 2189.4,1562.8 2182.1,1562.9 2174.8,1563 2167.5,1562.9 2160.2,1562.8 2153,1562.5 2145.8,1562.2 2138.7,1561.7 2131.7,1561.1 2124.7,1560.5 2117.9,1559.7 2111.3,1558.9 2104.8,1557.9 2098.4,1556.9 2092.2,1555.8 2086.3,1554.5 2080.5,1553.2 2075,1551.9 2069.7,1550.4 2064.7,1548.9 2059.9,1547.3 2055.4,1545.6 2051.2,1543.9 2047.3,1542.1 2043.7,1540.3 2040.5,1538.4 2037.5,1536.5 2034.9,1534.5 2032.6,1532.5 2030.7,1530.4 2029.1,1528.4 2027.8,1526.3 2026.9,1524.2 2026.4,1522.1 2026.2,1520"/>
<path d="M 2026.2,1319 C 2027.8,1315.7 2031.6,1304.3 2035.6,1299.1 C 2039.6,1293.9 2045.5,1290.1 2050,1288 C 2054.5,1285.9 2056.9,1285.2 2062.4,1286.5 C 2067.9,1287.8 2073.6,1288.3 2083.2,1295.6 C 2092.8,1302.8 2107.9,1318.7 2120,1330 C 2132.1,1341.3 2141.3,1352.9 2156,1363.2 C 2170.7,1373.5 2190.7,1384.4 2208,1391.8 C 2225.3,1399.2 2240.7,1401.1 2260,1407.4 C 2279.3,1413.7 2313.1,1425.8 2323.7,1429.5"/>
<line x1="2323.7" y1="1429.5" x2="2516.2" y2="1493.2"/>
<path d="M 2100.8,1557.4 C 2104,1559.5 2112.3,1566.8 2120,1570 C 2127.7,1573.2 2138.7,1575.8 2147,1576.3 C 2155.3,1576.8 2163.7,1574.8 2170,1573 C 2176.3,1571.2 2182.2,1567 2184.7,1565.8"/>
<line x1="2324.3" y1="1463" x2="2340" y2="1467.2"/>
<line x1="2324.3" y1="1475.6" x2="2340" y2="1468"/>
<path d="M 2341.5,1466.4 C 2343.7,1469.6 2351.3,1479.6 2354.7,1485.7 C 2358.1,1491.8 2360.2,1498 2361.8,1502.9 C 2363.4,1507.8 2364,1509.5 2364,1515.1 C 2364,1520.7 2363.6,1529.8 2362,1536.4 C 2360.4,1543 2357.8,1548.3 2354.7,1554.7 C 2351.6,1561.1 2349.1,1569.8 2343.5,1575 C 2337.9,1580.2 2327.4,1584.1 2321.2,1586.1 C 2314.9,1588.1 2310.6,1586.3 2306,1587 C 2301.4,1587.7 2295.8,1589.7 2293.8,1590.2"/>
<path d="M 2283.6,1550.6 C 2284.4,1553.8 2286.8,1565.2 2288.7,1569.9 C 2290.6,1574.6 2292.1,1576.5 2294.8,1579 C 2297.5,1581.5 2300.5,1583.9 2304.9,1585.1 C 2309.3,1586.3 2318.5,1585.9 2321.2,1586.1"/>
<path d="M 2334,1475.5 C 2335.7,1476.2 2341,1477.6 2344,1480 C 2347,1482.4 2350.7,1488.3 2352,1490"/>
<polyline points="2251.9,1557.4 2264.5,1580.5 2293.9,1590"/>
<polyline points="2270.3,892.3 2310.2,879.4 2343.6,888 2337,893.4 2296.2,903.1 2270.3,892.3"/>
<polyline points="2358.6,958.4 2357.8,960.1 2356.9,961.9 2355.9,963.6 2354.9,965.3 2353.9,966.9 2352.8,968.5 2351.6,970.1 2350.4,971.6 2349.2,973.1 2347.9,974.5 2346.6,975.9 2345.3,977.2 2343.9,978.5 2342.5,979.7 2341.1,980.8 2339.6,981.9 2338.2,983 2336.7,983.9 2335.1,984.9 2333.6,985.7"/>
<polyline points="2286.3,967.9 2285.8,966.3 2285.3,964.7 2284.9,963 2284.6,961.3 2284.3,959.5 2284.1,957.7 2283.9,955.9 2283.8,954.1 2283.8,952.3 2283.8,950.4 2283.9,948.6 2284.1,946.7 2284.3,944.8 2284.6,942.9 2284.9,941 2285.3,939.1 2285.8,937.3 2286.3,935.4 2286.9,933.5 2287.5,931.7 2288.2,929.8 2289,928 2289.8,926.2 2290.6,924.5 2291.5,922.7 2292.5,921 2293.5,919.3 2294.5,917.7 2295.6,916.1 2296.8,914.5 2298,913 2299.2,911.5 2300.5,910.1 2301.8,908.7 2303.1,907.4 2304.5,906.1 2305.9,904.9 2307.3,903.8 2308.8,902.7 2310.2,901.6 2311.7,900.7 2313.3,899.7 2314.8,898.9 2316.3,898.1 2317.9,897.4 2319.5,896.8 2321.1,896.2 2322.6,895.7 2324.2,895.3 2325.8,894.9 2327.4,894.6 2329,894.4 2330.5,894.3 2332.1,894.2 2333.7,894.2 2335.2,894.3 2336.7,894.5 2338.2,894.7 2339.7,895 2341.1,895.4 2342.6,895.9 2344,896.4 2345.3,897 2346.7,897.7 2348,898.4 2349.2,899.2 2350.5,900.1 2351.6,901 2352.8,902 2353.9,903 2354.9,904.2 2355.9,905.3 2356.9,906.6 2357.8,907.9 2358.7,909.2 2359.5,910.6 2360.2,912.1 2360.9,913.5 2361.5,915.1 2362.1,916.7 2362.6,918.3 2363.1,919.9 2363.5,921.6 2363.8,923.3 2364.1,925.1 2364.3,926.9 2364.5,928.7 2364.6,930.5 2364.6,932.3 2364.6,934.2 2364.5,936 2364.3,937.9 2364.1,939.8 2363.8,941.7 2363.5,943.6 2363.1,945.5 2362.6,947.3 2362.1,949.2 2361.5,951.1 2360.9,952.9 2360.2,954.8 2359.4,956.6 2358.6,958.4"/>
<line x1="2296.2" y1="905" x2="2272.5" y2="963.5"/>
<line x1="2295.5" y1="904" x2="2281" y2="964.5"/></g>
</svg></body></html>
